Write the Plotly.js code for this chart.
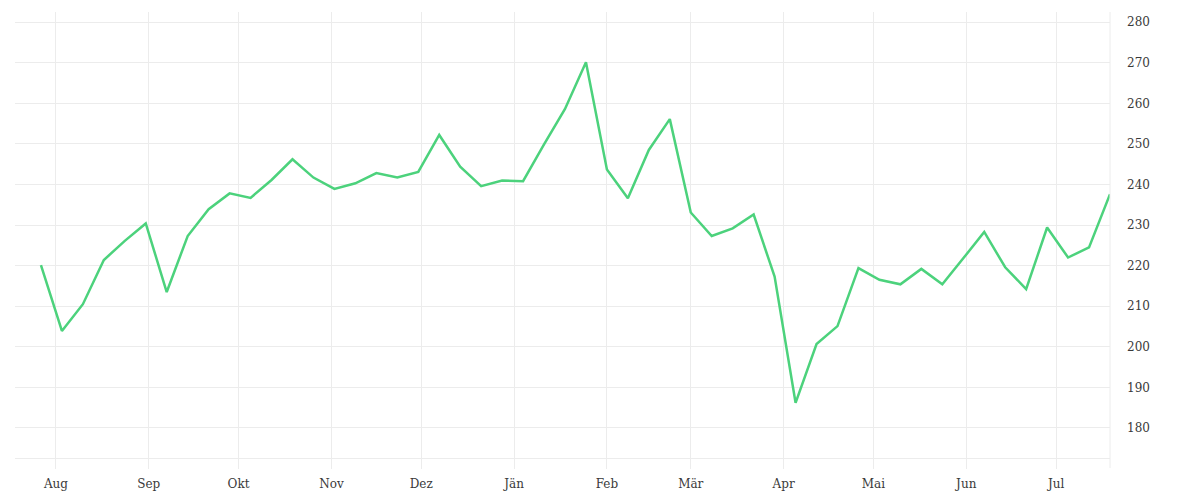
<!DOCTYPE html>
<html>
<head>
<meta charset="utf-8">
<script src="https://cdn.plot.ly/plotly-3.0.1.min.js"></script>
<style>
  html, body { margin: 0; padding: 0; background: #fff; }
  #chart { width: 1200px; height: 500px; }
</style>
</head>
<body>
<div id="chart"></div>
<script>
// weekly closing values
const dates = [
    '2021-07-27', '2021-08-03', '2021-08-10', '2021-08-17', '2021-08-24', '2021-08-31',
    '2021-09-07', '2021-09-14', '2021-09-21', '2021-09-28', '2021-10-05', '2021-10-12',
    '2021-10-19', '2021-10-26', '2021-11-02', '2021-11-09', '2021-11-16', '2021-11-23',
    '2021-11-30', '2021-12-07', '2021-12-14', '2021-12-21', '2021-12-28', '2022-01-04',
    '2022-01-11', '2022-01-18', '2022-01-25', '2022-02-01', '2022-02-08', '2022-02-15',
    '2022-02-22', '2022-03-01', '2022-03-08', '2022-03-15', '2022-03-22', '2022-03-29',
    '2022-04-05', '2022-04-12', '2022-04-19', '2022-04-26', '2022-05-03', '2022-05-10',
    '2022-05-17', '2022-05-24', '2022-05-31', '2022-06-07', '2022-06-14', '2022-06-21',
    '2022-06-28', '2022-07-05', '2022-07-12', '2022-07-19'
];
const values = [
    220.1, 203.9, 210.5, 221.4, 226.1, 230.4,
    213.5, 227.3, 233.9, 237.8, 236.7, 241.1,
    246.2, 241.7, 238.9, 240.3, 242.8, 241.7,
    243.1, 252.2, 244.4, 239.6, 241.0, 240.8,
    249.9, 258.6, 270.1, 243.7, 236.6, 248.5,
    256.1, 233.1, 227.3, 229.2, 232.6, 217.3,
    186.2, 200.7, 205.1, 219.4, 216.5, 215.4,
    219.2, 215.4, 221.8, 228.3, 219.6, 214.2,
    229.4, 222.0, 224.5, 237.6
];
const monthTicks = [
    '2021-08-01', '2021-09-01', '2021-10-01', '2021-11-01', '2021-12-01', '2022-01-01',
    '2022-02-01', '2022-03-01', '2022-04-01', '2022-05-01', '2022-06-01', '2022-07-01'
];
const monthLabels = ['Aug', 'Sep', 'Okt', 'Nov', 'Dez', 'Jän', 'Feb', 'Mär', 'Apr', 'Mai', 'Jun', 'Jul'];

const gridColor = '#ececec';

const trace = {
    x: dates,
    y: values,
    type: 'scatter',
    mode: 'lines',
    line: { color: '#4cd27c', width: 2.5 },
    hoverinfo: 'x+y'
};

const layout = {
    width: 1200,
    height: 500,
    margin: { l: 15, r: 90, t: 12, b: 42 },
    paper_bgcolor: '#fff',
    plot_bgcolor: '#fff',
    showlegend: false,
    font: { family: 'DejaVu Serif, serif', size: 12, color: '#3a3a3a' },
    xaxis: {
        type: 'date',
        range: ['2021-07-18 08:00', '2022-07-19'],
        tickmode: 'array',
        tickvals: monthTicks,
        ticktext: monthLabels,
        showgrid: true,
        gridcolor: gridColor,
        ticks: 'outside',
        ticklen: 10,
        tickcolor: gridColor,
        ticklabelstandoff: 5,
        showline: true,
        linecolor: gridColor,
        zeroline: false
    },
    yaxis: {
        side: 'right',
        range: [172.6, 282.5],
        tickmode: 'linear',
        tick0: 180,
        dtick: 10,
        showgrid: true,
        gridcolor: gridColor,
        ticks: '',
        ticklabelstandoff: 16,
        zeroline: false,
        showline: false
    },
    shapes: [{
        type: 'line',
        xref: 'paper', yref: 'paper',
        x0: 1, x1: 1, y0: -0.0225, y1: 1,
        line: { color: gridColor, width: 1 }
    }]
};

Plotly.newPlot('chart', [trace], layout, { displayModeBar: false, staticPlot: true });
</script>
</body>
</html>
